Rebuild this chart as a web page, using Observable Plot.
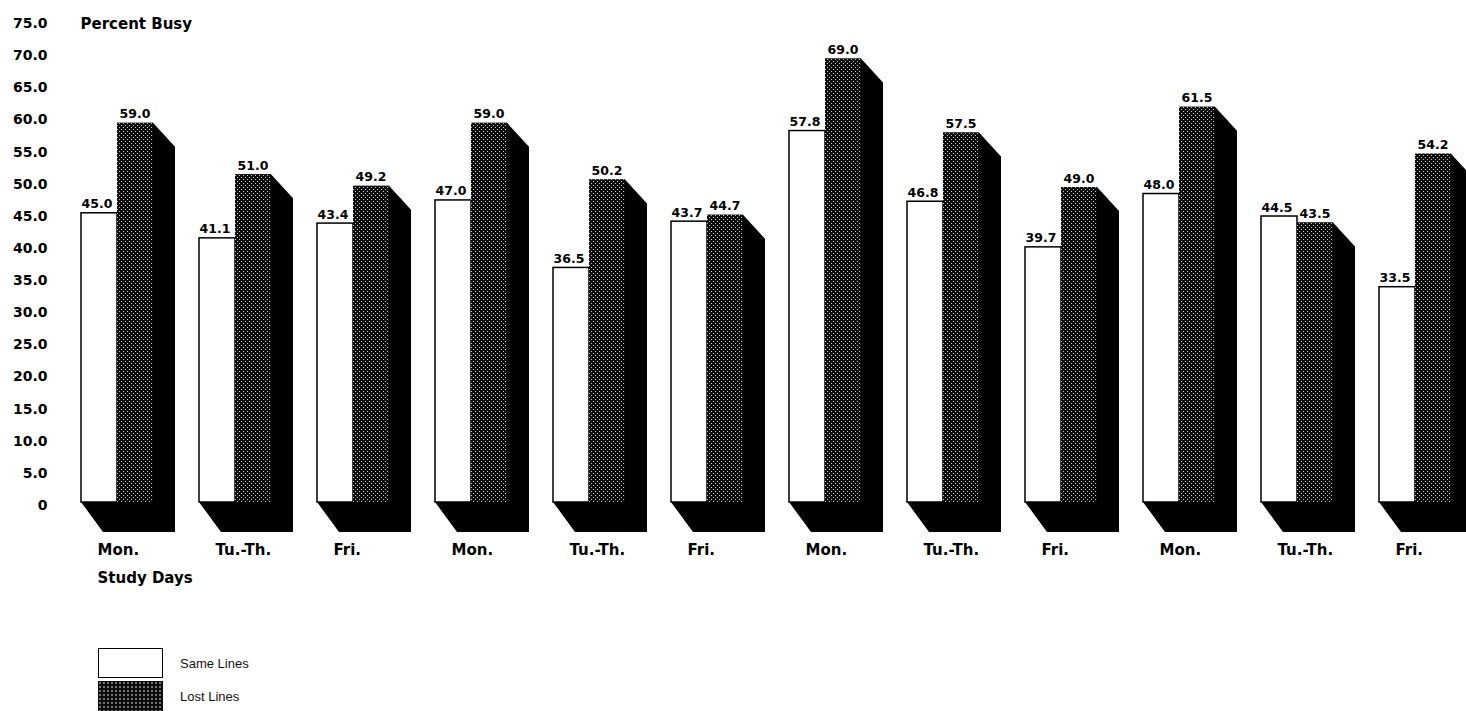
<!DOCTYPE html>
<html>
<head>
<meta charset="utf-8">
<script src="https://cdn.jsdelivr.net/npm/d3@7"></script>
<script src="https://cdn.jsdelivr.net/npm/@observablehq/plot@0.6"></script>
<style>
  html, body { margin: 0; padding: 0; background: #fff; }
  #chart svg { display: block; }
  .legend { margin-left: 98px; margin-top: 8px; font-family: "Liberation Sans", Arial, sans-serif; font-size: 13px; color: #111; }
  .legend .item { display: flex; align-items: center; height: 30px; margin-bottom: 3px; }
  .legend .sw { width: 65px; height: 30px; box-sizing: border-box; }
  .legend .same { background: #fff; border: 1.5px solid #000; }
  .legend .lost { background-color: #0d0d0d; background-image: radial-gradient(#c8c8c8 0.55px, transparent 0.9px); background-size: 4px 4px; }
  .legend .lbl { margin-left: 17px; }
</style>
</head>
<body>
<div id="chart"></div>
<div class="legend">
  <div class="item"><div class="sw same"></div><span class="lbl">Same Lines</span></div>
  <div class="item"><div class="sw lost"></div><span class="lbl">Lost Lines</span></div>
</div>
<script>
// ---- data ----
const days = ["Mon.", "Tu.-Th.", "Fri.", "Mon.", "Tu.-Th.", "Fri.", "Mon.", "Tu.-Th.", "Fri.", "Mon.", "Tu.-Th.", "Fri."];
const sameLines = [45.0, 41.1, 43.4, 47.0, 36.5, 43.7, 57.8, 46.8, 39.7, 48.0, 44.5, 33.5];
const lostLines = [59.0, 51.0, 49.2, 59.0, 50.2, 44.7, 69.0, 57.5, 49.0, 61.5, 43.5, 54.2];
const yTicks = [0, 5, 10, 15, 20, 25, 30, 35, 40, 45, 50, 55, 60, 65, 70, 75];
const yTitle = "Percent Busy";
const xTitle = "Study Days";

const rows = days.map((d, i) => ({key: String(i), day: d, same: sameLines[i], lost: lostLines[i]}));
const keys = rows.map(r => r.key);

const W = 1466, H = 640;
const DX = 22, DYT = 24, DYB = 30;

function extrusion(index, scales) {
  const {x, y} = scales;
  const bw = x.bandwidth ? x.bandwidth() : 72;
  const y0 = y(0);
  const g = d3.create("svg:g");
  const p = g.append("defs").append("pattern")
    .attr("id", "stipple").attr("width", 4).attr("height", 4)
    .attr("patternUnits", "userSpaceOnUse");
  p.append("rect").attr("width", 4).attr("height", 4).attr("fill", "#0d0d0d");
  p.append("rect").attr("x", 1).attr("y", 1).attr("width", 1).attr("height", 1).attr("fill", "#c8c8c8");
  p.append("rect").attr("x", 3).attr("y", 3).attr("width", 1).attr("height", 1).attr("fill", "#c8c8c8");
  g.selectAll("path").data(rows).join("path")
    .attr("fill", "#000")
    .attr("d", d => {
      const l = x(d.key), r = l + bw, m = l + bw / 2, yt = y(d.lost);
      return `M${l},${y0}L${m},${y0}L${m},${yt}L${r},${yt}L${r + DX},${yt + DYT}L${r + DX},${y0 + DYB}L${l + DX},${y0 + DYB}Z`;
    });
  return g.node();
}

const plot = Plot.plot({
  width: W,
  height: H,
  marginLeft: 81,
  marginRight: 15,
  marginTop: 20,
  marginBottom: H - 502,
  style: {fontFamily: "'DejaVu Sans', sans-serif", fontSize: "15px", color: "#000", background: "#fff"},
  x: {type: "band", domain: keys, paddingInner: 46 / 118, paddingOuter: 0, align: 0},
  y: {domain: [0, 75]},
  marks: [
    extrusion,
    Plot.barY(rows, {x: "key", y: "same", insetRight: 36, fill: "#fff", stroke: "#000", strokeWidth: 1.5}),
    Plot.barY(rows, {x: "key", y: "lost", insetLeft: 36, fill: "url(#stipple)"}),
    Plot.text(rows, {x: "key", y: "same", text: d => d.same.toFixed(1), dx: -36, dy: -9, textAnchor: "start", fontSize: 12.5, fontWeight: "bold"}),
    Plot.text(rows, {x: "key", y: "lost", text: d => d.lost.toFixed(1), dx: 2, dy: -9, textAnchor: "start", fontSize: 12.5, fontWeight: "bold"}),
    Plot.axisY({ticks: yTicks, tickSize: 0, tickPadding: 34, dy: 3, label: null, fontSize: 14, fontWeight: "bold",
      tickFormat: v => v === 0 ? "0" : v.toFixed(1)}),
    Plot.axisX({tickSize: 0, tickPadding: 42, label: null, textAnchor: "start", dx: -20, fontSize: 15, fontWeight: "bold",
      tickFormat: k => days[+k]}),
    Plot.text([yTitle], {text: d => d, frameAnchor: "top-left", textAnchor: "start", lineAnchor: "middle", dy: 4, dx: -1, fontSize: 15, fontWeight: "bold"}),
    Plot.text([xTitle], {text: d => d, frameAnchor: "bottom-left", textAnchor: "start", lineAnchor: "middle", dy: 76, dx: 16, fontSize: 15, fontWeight: "bold"})
  ]
});
document.getElementById("chart").appendChild(plot);
</script>
</body>
</html>
